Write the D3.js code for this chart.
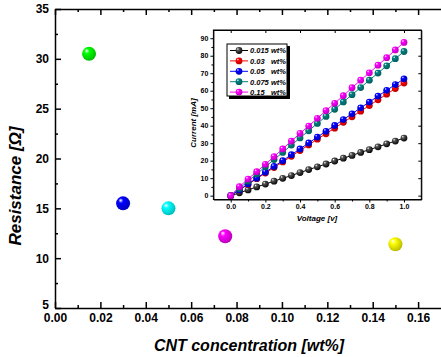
<!DOCTYPE html>
<html lang="en">
<head>
<meta charset="utf-8" />
<title>Resistance vs CNT concentration</title>
<script src="https://d3js.org/d3.v7.min.js" charset="utf-8"></script>
<style>
  body { margin: 0; background: #fff; }
  svg { display: block; font-family: "Liberation Sans", Arial, sans-serif; }
  .axis path, .axis line { stroke: #000; }
  .main .axis path, .main .axis line { stroke-width: 1.5; }
  .main .axis text { font-size: 12px; font-weight: bold; fill: #000; }
  .inset .axis path, .inset .axis line { stroke-width: 1; }
  .inset .axis text { font-size: 7px; font-weight: bold; fill: #000; }
  .lbl { font-weight: bold; font-style: italic; fill: #000; }
</style>
</head>
<body>
<div id="svg-container"></div>
<script>
// main chart data
const concentrations = [0.015, 0.03, 0.05, 0.075, 0.15];
const resistance = [30.5, 15.5, 15.0, 12.2, 11.4];
const pointColours = ["#00ff00", "#0000ff", "#00ffff", "#ff00ff", "#ffff00"];

// inset I-V data
const voltage = [0, 0.05, 0.1, 0.15, 0.2, 0.25, 0.3, 0.35, 0.4, 0.45, 0.5,
                 0.55, 0.6, 0.65, 0.7, 0.75, 0.8, 0.85, 0.9, 0.95, 1.0];
const current015 = [0, 1.6, 3.3, 5.0, 6.6, 8.3, 9.9, 11.5, 13.2, 14.9, 16.5,
                    18.1, 19.8, 21.4, 23.0, 24.7, 26.3, 27.9, 29.6, 31.2, 32.9];
const current03 = [0, 3.2, 6.4, 9.7, 12.9, 16.1, 19.3, 22.5, 25.8, 29.0, 32.3,
                   35.4, 38.6, 41.9, 45.1, 48.3, 51.5, 54.8, 58.0, 61.2, 64.4];
const current05 = [0, 3.3, 6.7, 10.0, 13.4, 16.7, 20.0, 23.4, 26.7, 30.1, 33.5,
                   36.8, 40.1, 43.5, 46.8, 50.2, 53.5, 56.9, 60.2, 63.5, 66.8];
const current075 = [0, 4.1, 8.3, 12.4, 16.5, 20.6, 24.7, 28.9, 33.0, 37.1, 41.3,
                    45.3, 49.4, 53.6, 57.7, 61.8, 66.0, 70.1, 74.2, 78.3, 82.4];
const current15 = [0, 5.1, 9.5, 13.7, 17.9, 22.3, 26.7, 31.2, 35.6, 39.8, 44.2,
                   48.6, 52.8, 57.1, 61.7, 66.0, 70.2, 74.6, 78.9, 83.3, 87.6];
const seriesNames = ["0.015", "0.03", "0.05", "0.075", "0.15"];
const seriesColours = ["#000000", "#ff0000", "#0000ff", "#008080", "#ff00ff"];
const seriesValues = [current015, current03, current05, current075, current15];

const mainXTicks = [0, 0.02, 0.04, 0.06, 0.08, 0.10, 0.12, 0.14, 0.16];
const mainYTicks = [5, 10, 15, 20, 25, 30, 35];
const insetXTicks = [0, 0.2, 0.4, 0.6, 0.8, 1.0];
const insetYTicks = [0, 10, 20, 30, 40, 50, 60, 70, 80, 90];

const W = 441, H = 357;
const svg = d3.select("#svg-container").append("svg")
  .attr("width", W).attr("height", H);
const defs = svg.append("defs");

// shiny sphere gradients
function sphere(id, colour) {
  const c = d3.color(colour);
  const dark = c.darker(colour === "#000000" ? 0 : 0.9);
  const g = defs.append("radialGradient").attr("id", id)
    .attr("cx", "40%").attr("cy", "38%").attr("r", "65%")
    .attr("fx", "32%").attr("fy", "28%");
  g.append("stop").attr("offset", "0%").attr("stop-color", "#fff");
  g.append("stop").attr("offset", "28%").attr("stop-color", colour === "#000000" ? "#555" : colour);
  g.append("stop").attr("offset", "100%").attr("stop-color", colour === "#000000" ? "#000" : dark);
}
pointColours.forEach((c, i) => sphere("pt" + i, c));
seriesColours.forEach((c, i) => sphere("sr" + i, c));

// ---------- main plot ----------
const main = svg.append("g").attr("class", "main");
const x = d3.scaleLinear().domain([0, 0.17]).range([55, 440.8]);
const y = d3.scaleLinear().domain([5, 35]).range([308, 9]);

main.append("g").attr("class", "axis")
  .attr("transform", `translate(0,${y(5)})`)
  .call(d3.axisBottom(x).tickValues(mainXTicks).tickSize(-6).tickSizeOuter(0)
    .tickPadding(5).tickFormat(d3.format(".2f")));
main.append("g").attr("class", "axis")
  .attr("transform", `translate(0,${y(5)})`)
  .call(d3.axisBottom(x).tickValues(d3.range(0.01, 0.17, 0.02)).tickSize(-3).tickFormat(""))
  .select(".domain").remove();
main.append("g").attr("class", "axis")
  .attr("transform", `translate(0,${y(35)})`)
  .call(d3.axisTop(x).tickValues(mainXTicks).tickSize(-6).tickSizeOuter(0).tickFormat(""));
main.append("g").attr("class", "axis")
  .attr("transform", `translate(0,${y(35)})`)
  .call(d3.axisTop(x).tickValues(d3.range(0.01, 0.17, 0.02)).tickSize(-3).tickFormat(""))
  .select(".domain").remove();
const yAxisG = main.append("g").attr("class", "axis")
  .attr("transform", `translate(${x(0)},0)`)
  .call(d3.axisLeft(y).tickValues(mainYTicks).tickSize(-6).tickSizeOuter(0).tickPadding(6));
// lift the bottom "5" label clear of the x labels
yAxisG.selectAll(".tick text").filter(d => d === 5).attr("dy", "0.05em");
main.append("g").attr("class", "axis")
  .attr("transform", `translate(${x(0)},0)`)
  .call(d3.axisLeft(y).tickValues(d3.range(7.5, 35, 5)).tickSize(-3).tickFormat(""))
  .select(".domain").remove();

main.selectAll("circle.pt")
  .data(concentrations)
  .join("circle").attr("class", "pt")
  .attr("cx", d => x(d))
  .attr("cy", (d, i) => y(resistance[i]))
  .attr("r", 7)
  .attr("fill", (d, i) => `url(#pt${i})`);

main.append("text").attr("class", "lbl")
  .attr("x", 249).attr("y", 351).attr("text-anchor", "middle")
  .style("font-size", "16px").text("CNT concentration [wt%]");
main.append("text").attr("class", "lbl")
  .attr("transform", "translate(21,186) rotate(-90)").attr("text-anchor", "middle")
  .style("font-size", "17px").text("Resistance [Ω]");

// ---------- inset ----------
const inset = svg.append("g").attr("class", "inset");
const ix = d3.scaleLinear().domain([-0.1, 1.1]).range([213.4, 421.3]);
const iy = d3.scaleLinear().domain([-2.2, 94.7]).range([199.5, 30]);

inset.append("rect")
  .attr("x", ix(-0.1)).attr("y", iy(94.7))
  .attr("width", ix(1.1) - ix(-0.1)).attr("height", iy(-2.2) - iy(94.7))
  .attr("fill", "#fff").attr("stroke", "#000").attr("stroke-width", 1);

inset.append("g").attr("class", "axis")
  .attr("transform", `translate(0,${iy(-2.2)})`)
  .call(d3.axisBottom(ix).tickValues(insetXTicks).tickSize(3).tickSizeOuter(0)
    .tickPadding(2).tickFormat(d3.format(".1f")));
inset.append("g").attr("class", "axis")
  .attr("transform", `translate(0,${iy(-2.2)})`)
  .call(d3.axisBottom(ix).tickValues([0.1, 0.3, 0.5, 0.7, 0.9]).tickSize(2).tickFormat(""))
  .select(".domain").remove();
inset.append("g").attr("class", "axis")
  .attr("transform", `translate(0,${iy(94.7)})`)
  .call(d3.axisTop(ix).tickValues(insetXTicks).tickSize(-3).tickSizeOuter(0).tickFormat(""));
inset.append("g").attr("class", "axis")
  .attr("transform", `translate(${ix(-0.1)},0)`)
  .call(d3.axisLeft(iy).tickValues(insetYTicks).tickSize(3).tickSizeOuter(0).tickPadding(2));
inset.append("g").attr("class", "axis")
  .attr("transform", `translate(${ix(-0.1)},0)`)
  .call(d3.axisLeft(iy).tickValues(d3.range(5, 95, 10)).tickSize(2).tickFormat(""))
  .select(".domain").remove();
inset.append("g").attr("class", "axis")
  .attr("transform", `translate(${ix(1.1)},0)`)
  .call(d3.axisRight(iy).tickValues(insetYTicks).tickSize(-3).tickSizeOuter(0).tickFormat(""));

const line = d3.line().x((d, i) => ix(voltage[i])).y(d => iy(d));
seriesValues.forEach((vals, s) => {
  const g = inset.append("g");
  g.append("path").attr("d", line(vals))
    .attr("fill", "none").attr("stroke", seriesColours[s]).attr("stroke-width", 1);
  g.selectAll("circle").data(vals).join("circle")
    .attr("cx", (d, i) => ix(voltage[i]))
    .attr("cy", d => iy(d))
    .attr("r", 3.4)
    .attr("fill", `url(#sr${s})`);
});

inset.append("text").attr("class", "lbl")
  .attr("x", 317).attr("y", 221).attr("text-anchor", "middle")
  .style("font-size", "8px").text("Voltage [v]");
inset.append("text").attr("class", "lbl")
  .attr("transform", "translate(196,123) rotate(-90)").attr("text-anchor", "middle")
  .style("font-size", "8px").text("Current [mA]");

// legend
const lg = inset.append("g");
lg.append("rect").attr("x", 229).attr("y", 46).attr("width", 61).attr("height", 53).attr("fill", "#000");
lg.append("rect").attr("x", 227).attr("y", 44).attr("width", 60).attr("height", 52)
  .attr("fill", "#fff").attr("stroke", "#000").attr("stroke-width", 1);
seriesNames.forEach((name, s) => {
  const ry = 50.5 + s * 10.4;
  lg.append("line").attr("x1", 230).attr("x2", 248).attr("y1", ry).attr("y2", ry)
    .attr("stroke", seriesColours[s]).attr("stroke-width", 1);
  lg.append("circle").attr("cx", 239).attr("cy", ry).attr("r", 3.4).attr("fill", `url(#sr${s})`);
  lg.append("text").attr("class", "lbl").attr("x", 250).attr("y", ry + 2.8)
    .style("font-size", "7.5px").text(name);
  lg.append("text").attr("class", "lbl").attr("x", 271).attr("y", ry + 2.8)
    .style("font-size", "7.5px").text("wt%");
});
</script>
</body>
</html>
